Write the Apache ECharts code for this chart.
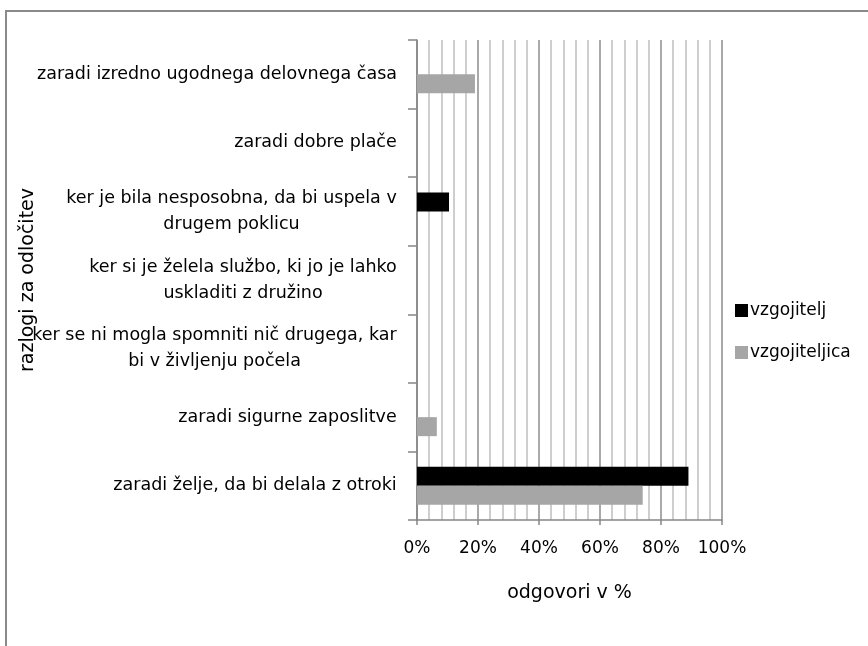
<!DOCTYPE html>
<html>
<head>
<meta charset="utf-8">
<script src="https://cdn.jsdelivr.net/npm/echarts@6/dist/echarts.min.js"></script>
<style>
    html, body { margin: 0; padding: 0; background: #fff; }
    #chart { width: 868px; height: 646px; }
</style>
</head>
<body>
<div id="chart"></div>
<script>
    // razlogi za odločitev (od zgoraj navzdol)
    var categories = [
        'zaradi izredno ugodnega delovnega časa',
        'zaradi dobre plače',
        'ker je bila nesposobna, da bi uspela v\ndrugem poklicu',
        'ker si je želela službo, ki jo je lahko\nuskladiti z družino',
        'ker se ni mogla spomniti nič drugega, kar\nbi v življenju počela',
        'zaradi sigurne zaposlitve',
        'zaradi želje, da bi delala z otroki'
    ];
    var seriesNames = ['vzgojitelj', 'vzgojiteljica'];
    var vzgojitelj = [0, 0, 10.5, 0, 0, 0, 89];
    var vzgojiteljica = [19, 0, 0, 0, 0, 6.5, 74];
    var xTicks = [0, 20, 40, 60, 80, 100];

    var FONT = '"DejaVu Sans", sans-serif';
    var labelSize = 17.5;

    // vrstice večvrstičnih oznak poravnamo na sredino (kot v Excelu)
    var ctx = document.createElement('canvas').getContext('2d');
    ctx.font = labelSize + 'px "DejaVu Sans"';
    var rich = {};
    categories.forEach(function (c, i) {
        var w = 0;
        c.split('\n').forEach(function (l) { w = Math.max(w, ctx.measureText(l).width); });
        rich['c' + i] = { width: Math.ceil(w), align: 'center', fontSize: labelSize, fontFamily: FONT, color: '#000', lineHeight: 26 };
    });

    var chart = echarts.init(document.getElementById('chart'));
    var option = {
        animation: false,
        textStyle: { fontFamily: FONT },
        graphic: [{
            type: 'rect',
            shape: { x: 6, y: 11, width: 900, height: 700 },
            style: { fill: 'none', stroke: '#8a8a8a', lineWidth: 2 }
        }],
        grid: { left: 417, right: 146, top: 40, bottom: 126 },
        legend: {
            orient: 'vertical',
            left: 735,
            top: 302,
            padding: 0,
            itemWidth: 13,
            itemHeight: 13,
            itemGap: 25,
            icon: 'rect',
            textStyle: { fontSize: 17, color: '#000', fontFamily: FONT, padding: [0, 0, 0, -3] },
            data: seriesNames
        },
        xAxis: {
            type: 'value',
            min: 0,
            max: 100,
            interval: 20,
            name: 'odgovori v %',
            nameLocation: 'middle',
            nameGap: 64,
            nameMoveOverlap: false,
            nameTextStyle: { fontSize: 19, color: '#000' },
            axisLine: { show: true, lineStyle: { color: '#868686', width: 1.5 } },
            axisTick: { show: true, length: 5, lineStyle: { color: '#868686', width: 1.5 } },
            axisLabel: {
                fontSize: 17, color: '#000', margin: 20,
                formatter: function (v) { return xTicks.indexOf(v) >= 0 ? v + '%' : ''; }
            },
            splitLine: { show: true, lineStyle: { color: '#8c8c8c', width: 1.5 } },
            minorTick: { show: false, splitNumber: 5 },
            minorSplitLine: { show: true, lineStyle: { color: '#bfbfbf', width: 1.5 } }
        },
        yAxis: {
            type: 'category',
            inverse: true,
            data: categories,
            name: 'razlogi za odločitev',
            nameLocation: 'middle',
            nameGap: 379,
            nameMoveOverlap: false,
            nameTextStyle: { fontSize: 19, color: '#000' },
            axisLine: { show: true, lineStyle: { color: '#868686', width: 1.5 } },
            axisTick: { show: true, length: 9, lineStyle: { color: '#868686', width: 1.5 } },
            axisLabel: {
                margin: 20,
                formatter: function (v, i) {
                    return v.split('\n').map(function (l) { return '{c' + i + '|' + l + '}'; }).join('\n');
                },
                rich: rich
            }
        },
        series: [
            {
                name: seriesNames[0],
                type: 'bar',
                data: vzgojitelj,
                barWidth: 19,
                barGap: '0%',
                itemStyle: { color: '#000000' }
            },
            {
                name: seriesNames[1],
                type: 'bar',
                data: vzgojiteljica,
                barWidth: 19,
                barGap: '0%',
                itemStyle: { color: '#a6a6a6' }
            }
        ]
    };
    chart.setOption(option);
</script>
</body>
</html>
